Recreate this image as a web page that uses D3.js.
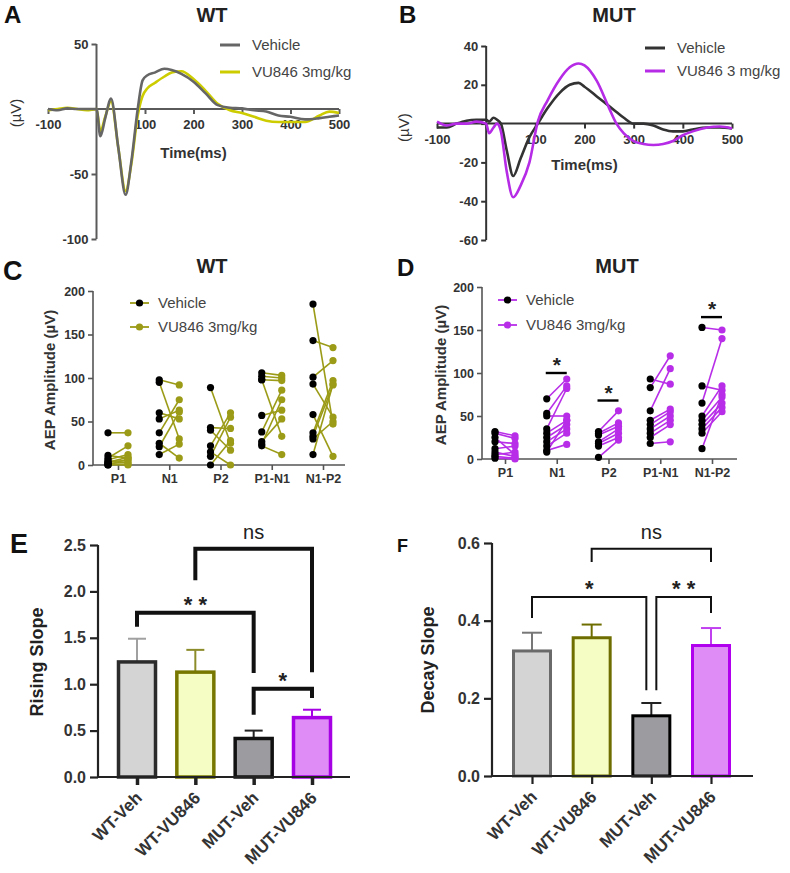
<!DOCTYPE html>
<html>
<head>
<meta charset="utf-8">
<script src="https://cdn.jsdelivr.net/npm/d3@7"></script>
<style>
body { margin: 0; background: #fff; }
svg { font-family: "Liberation Sans", Arial, sans-serif; }
</style>
</head>
<body>
<svg id="fig" width="790" height="873"></svg>
<script>
"use strict";

// ---------- data ----------
// A: WT averaged AEP traces (ms, µV)
const wtTime    = [-100,-80,-60,-40,-20,0,8,18,30,45,60,72,85,95,105,120,140,155,175,200,225,250,275,300,325,350,375,400,430,460,480,500];
const wtVehicle = [0,-1,0.5,0,0,0,-21,-7,8,-30,-66,-40,0,22,26,28,31,30,27,21,12,3,1,0.5,-1,-2,-5,-6,-8,-7,-6,-5];
const wtVU846   = [-1,0,1,0,-1,0,-17,-6,6,-30,-63,-42,-5,10,16,20,25,28,29,23,14,4,-1,-3,-6,-9,-10,-10,-10,-5,-2,-3];

// B: MUT averaged AEP traces
const mutTime    = [-100,-80,-60,-40,-20,0,6,15,22,30,42,55,70,88,105,125,150,170,188,200,225,250,265,280,300,320,340,360,380,400,420,450,475,500];
const mutVehicle = [-2,-2,0,1.5,2,2,1,3,2,0,-14,-27,-18,-7,0,8,16,20,21,19,14,9,6,3,0,0,-1,-3,-4,-4,-3,-2,-2,-2.5];
const mutVU846   = [1,-1,0,0,1,0,-5,-2,0,-4,-25,-38,-32,-20,1,12,23,29,31,30,22,8,0,-5,-9,-10.5,-11,-10.5,-9,-6,-4,-2,-1.5,-2.5];

// C/D: paired amplitudes per peak (index i of vehicle pairs with index i of VU846)
const peakCats = ["P1", "N1", "P2", "P1-N1", "N1-P2"];
const wtAmpVehicle = [
  [37, 11, 8, 6, 4, 3, 2, 1, 0, 0],
  [98, 95, 60, 53, 37, 25, 21, 12],
  [89, 43, 40, 22, 15, 10, 0],
  [106, 102, 98, 98, 57, 38, 27, 24, 22],
  [185, 143, 101, 93, 58, 37, 33, 30, 12]
];
const wtAmpVU846 = [
  [37, 8, 22, 12, 5, 9, 3, 0, 7, 1],
  [92, 30, 53, 63, 75, 8, 61, 24],
  [25, 42, 17, 60, 0, 55, 28],
  [103, 100, 97, 33, 63, 86, 53, 75, 12],
  [47, 135, 120, 55, 10, 97, 92, 50, 93]
];
const mutAmpVehicle = [
  [32, 30, 25, 20, 12, 8, 5, 3, 1],
  [70, 53, 50, 35, 30, 25, 20, 15, 10, 8],
  [32, 30, 28, 20, 18, 15, 2],
  [93, 83, 56, 45, 40, 35, 30, 25, 18],
  [153, 85, 65, 50, 45, 40, 35, 30, 12]
];
const mutAmpVU846 = [
  [27, 24, 5, 18, 15, 3, 8, 1, 0],
  [93, 85, 50, 82, 45, 40, 35, 30, 17, 45],
  [56, 42, 38, 35, 30, 25, 22],
  [87, 120, 105, 58, 55, 50, 45, 40, 20],
  [150, 80, 140, 85, 72, 65, 60, 55, 75]
];
const mutSigCats  = ["N1", "P2", "N1-P2"];
const mutSigLevel = [100, 68, 165];

// E/F: slopes, mean and SEM
const groups     = ["WT-Veh", "WT-VU846", "MUT-Veh", "MUT-VU846"];
const risingMean = [1.24, 1.13, 0.415, 0.64];
const risingSem  = [0.25, 0.24, 0.085, 0.085];
const decayMean  = [0.322, 0.356, 0.155, 0.336];
const decaySem   = [0.047, 0.034, 0.033, 0.045];

// comparison brackets: groups compared, bar height, leg ends, label
const risingBrackets = [
  { a: 0, b: 2, top: 1.77, endA: 1.62, endB: 1.12, label: "* *" },
  { a: 1, b: 3, top: 2.46, endA: 2.12, endB: 1.13, label: "ns" },
  { a: 2, b: 3, top: 0.95, endA: 0.67, endB: 0.85, label: "*" }
];
const decayBrackets = [
  { a: 1, b: 3, top: 0.585, endA: 0.551, endB: 0.551, label: "ns" },
  { a: 0, b: 2, top: 0.461, endA: 0.407, endB: 0.221, label: "*", nudgeB: -5 },
  { a: 2, b: 3, top: 0.461, endA: 0.221, endB: 0.42, label: "* *", nudgeA: 5 }
];

// ---------- drawing ----------
const svg = d3.select("#fig");

function letter(x, y, t, size) {
  svg.append("text").attr("x", x).attr("y", y).text(t)
    .attr("font-size", size || 24).attr("font-weight", "bold").attr("fill", "#111");
}
function title(x, y, t) {
  svg.append("text").attr("x", x).attr("y", y).text(t)
    .attr("text-anchor", "middle").attr("font-size", 20).attr("font-weight", "bold").attr("fill", "#222");
}
function styleAxis(ax, color, width, fontSize) {
  ax.select(".domain").attr("stroke", color).attr("stroke-width", width);
  ax.selectAll(".tick line").attr("stroke", color).attr("stroke-width", width);
  ax.selectAll(".tick text").attr("font-size", fontSize).attr("font-weight", "bold")
    .attr("fill", "#333").attr("font-family", "Liberation Sans, Arial, sans-serif");
}

function tracePanel(cfg) {
  const x = d3.scaleLinear().domain([-100, 500]).range(cfg.xRange);
  const y = d3.scaleLinear().domain(cfg.yDomain).range(cfg.yRange);
  const g = svg.append("g");

  const yAx = g.append("g").attr("transform", `translate(${x(0)},0)`)
    .call(d3.axisLeft(y).tickValues(cfg.yTicks).tickSize(5).tickPadding(3)
      .tickFormat(d => d === 0 ? "" : d));
  styleAxis(yAx, cfg.axisColor, 2, 13);
  yAx.select(".domain").attr("d", `M0,${y(cfg.yDomain[0])}V${y(cfg.yDomain[1])}`);

  const xAx = g.append("g").attr("transform", `translate(0,${y(0)})`)
    .call(d3.axisBottom(x).tickValues([-100, 0, 100, 200, 300, 400, 500]).tickSize(5).tickPadding(6)
      .tickFormat(d => d === 0 ? "" : d));
  styleAxis(xAx, cfg.axisColor, 2, 13);
  xAx.select(".domain").attr("d", `M${x(-100)},0H${x(500)}`);

  g.append("text").attr("x", x(200)).attr("y", y(0) + cfg.xLabelDy).text("Time(ms)")
    .attr("text-anchor", "middle").attr("font-size", 15).attr("font-weight", "bold").attr("fill", "#333");
  g.append("text").attr("transform", `translate(${cfg.yLabelX},${y(0) + 4}) rotate(-90)`)
    .text("(µV)").attr("text-anchor", "middle").attr("font-size", 15).attr("fill", "#333");

  const line = d3.line().x(d => x(d[0])).y(d => y(d[1])).curve(d3.curveMonotoneX);
  cfg.drawOrder.forEach(i => {
    const s = cfg.series[i];
    g.append("path").datum(d3.zip(cfg.time, s.values)).attr("d", line)
      .attr("fill", "none").attr("stroke", s.color).attr("stroke-width", 2.6)
      .attr("stroke-linejoin", "round");
  });

  cfg.series.forEach((s, i) => {
    const ly = cfg.legendY[i];
    g.append("line").attr("x1", cfg.legendX).attr("x2", cfg.legendX + 20)
      .attr("y1", ly).attr("y2", ly).attr("stroke", s.color).attr("stroke-width", 3);
    g.append("text").attr("x", cfg.legendX + cfg.legendGap).attr("y", ly + 5).text(s.name)
      .attr("font-size", 15).attr("fill", "#444");
  });
}

function pairPanel(cfg) {
  const x = d3.scalePoint().domain(peakCats).range(cfg.xRange);
  const y = d3.scaleLinear().domain([0, 200]).range(cfg.yRange);
  const g = svg.append("g");

  const yAx = g.append("g").attr("transform", `translate(${cfg.axisX},0)`)
    .call(d3.axisLeft(y).tickValues([0, 50, 100, 150, 200]).tickSize(5).tickPadding(3));
  styleAxis(yAx, "#555", 1.6, 12.5);
  yAx.select(".domain").attr("d", `M0,${y(0)}V${y(200)}`);

  const xAx = g.append("g").attr("transform", `translate(0,${y(0)})`)
    .call(d3.axisBottom(x).tickSize(5).tickPadding(4));
  styleAxis(xAx, "#555", 1.6, 12.5);
  xAx.select(".domain").attr("d", `M${cfg.axisX},0H${cfg.axisEnd}`);

  g.append("text").attr("transform", `translate(${cfg.yLabelX},${y(100) + 2}) rotate(-90)`)
    .text("AEP Amplitude (µV)").attr("text-anchor", "middle")
    .attr("font-size", 15).attr("font-weight", "bold").attr("fill", "#333");

  peakCats.forEach((c, i) => {
    const pairs = d3.zip(cfg.veh[i], cfg.vu[i]);
    g.selectAll(null).data(pairs).join("line")
      .attr("x1", x(c) - 10).attr("x2", x(c) + 10)
      .attr("y1", d => y(d[0])).attr("y2", d => y(d[1]))
      .attr("stroke", cfg.color).attr("stroke-width", 1.6);
    g.selectAll(null).data(cfg.veh[i]).join("circle")
      .attr("cx", x(c) - 10).attr("cy", d => y(d)).attr("r", 3.6).attr("fill", "#000");
    g.selectAll(null).data(cfg.vu[i]).join("circle")
      .attr("cx", x(c) + 10).attr("cy", d => y(d)).attr("r", 3.6).attr("fill", cfg.color);
  });

  if (cfg.sigCats) {
    cfg.sigCats.forEach((c, i) => {
      const yy = y(cfg.sigLevel[i]);
      g.append("line").attr("x1", x(c) - 11).attr("x2", x(c) + 10)
        .attr("y1", yy).attr("y2", yy).attr("stroke", "#000").attr("stroke-width", 2.4);
      g.append("text").attr("x", x(c)).attr("y", yy - 1).text("*")
        .attr("text-anchor", "middle").attr("font-size", 21).attr("font-weight", "bold").attr("fill", "#222");
    });
  }

  ["Vehicle", "VU846 3mg/kg"].forEach((name, i) => {
    const ly = cfg.legendY[i];
    g.append("line").attr("x1", cfg.legendX).attr("x2", cfg.legendX + 19)
      .attr("y1", ly).attr("y2", ly).attr("stroke", cfg.color).attr("stroke-width", 1.8);
    g.append("circle").attr("cx", cfg.legendX + 9.5).attr("cy", ly).attr("r", 3.6)
      .attr("fill", i === 0 ? "#000" : cfg.color);
    g.append("text").attr("x", cfg.legendX + 28).attr("y", ly + 5).text(name)
      .attr("font-size", 15).attr("fill", "#444");
  });
}

function barPanel(cfg) {
  const x = d3.scalePoint().domain(groups).range(cfg.xRange);
  const y = d3.scaleLinear().domain(cfg.yDomain).range(cfg.yRange);
  const g = svg.append("g");
  const bw = 37;

  const data = groups.map((k, i) => ({ k, m: cfg.mean[i], s: cfg.sem[i], i }));

  g.selectAll(null).data(data).join("line")
    .attr("x1", d => x(d.k)).attr("x2", d => x(d.k))
    .attr("y1", d => y(d.m)).attr("y2", d => y(d.m + d.s))
    .attr("stroke", d => cfg.errColors[d.i]).attr("stroke-width", 2);
  g.selectAll(null).data(data).join("line")
    .attr("x1", d => x(d.k) - cfg.cap / 2).attr("x2", d => x(d.k) + cfg.cap / 2)
    .attr("y1", d => y(d.m + d.s)).attr("y2", d => y(d.m + d.s))
    .attr("stroke", d => cfg.errColors[d.i]).attr("stroke-width", 2);

  g.selectAll(null).data(data).join("rect")
    .attr("x", d => x(d.k) - bw / 2).attr("width", bw)
    .attr("y", d => y(d.m)).attr("height", d => y(0) - y(d.m))
    .attr("fill", d => cfg.fills[d.i]).attr("stroke", d => cfg.strokes[d.i])
    .attr("stroke-width", cfg.barStroke);

  const yAx = g.append("g").attr("transform", `translate(${cfg.axisX},0)`)
    .call(d3.axisLeft(y).tickValues(cfg.yTicks).tickSize(8).tickPadding(4).tickFormat(d3.format(".1f")));
  styleAxis(yAx, "#222", 2.2, 16);
  yAx.select(".domain").attr("d", `M0,${y(0)}V${y(cfg.yDomain[1])}`);

  const xAx = g.append("g").attr("transform", `translate(0,${y(0)})`)
    .call(d3.axisBottom(x).tickSize(8).tickFormat(""));
  xAx.select(".domain").attr("d", `M${cfg.axisX},0H${cfg.axisEnd}`)
    .attr("stroke", "#222").attr("stroke-width", 2.2);
  xAx.selectAll(".tick line").attr("stroke", "#222").attr("stroke-width", cfg.xTickWidth);

  g.selectAll(null).data(groups).join("text")
    .attr("transform", d => `translate(${x(d) + 6},${y(0) + 22}) rotate(-45)`)
    .attr("text-anchor", "end").text(d => d)
    .attr("font-size", 17).attr("font-weight", "bold").attr("fill", "#333");

  g.append("text").attr("transform", `translate(${cfg.yLabelX},${cfg.yLabelY}) rotate(-90)`)
    .text(cfg.yLabel).attr("text-anchor", "middle")
    .attr("font-size", 18).attr("font-weight", "bold").attr("fill", "#222");

  cfg.brackets.forEach(b => {
    const xa = x(groups[b.a]) + (b.nudgeA || 0);
    const xb = x(groups[b.b]) + (b.nudgeB || 0);
    g.append("path")
      .attr("d", `M${xa},${y(b.endA)}V${y(b.top)}H${xb}V${y(b.endB)}`)
      .attr("fill", "none").attr("stroke", "#111").attr("stroke-width", cfg.bracketWidth);
    const star = b.label !== "ns";
    g.append("text").attr("x", (xa + xb) / 2).attr("y", y(b.top) - (star ? 1 : 10))
      .text(b.label).attr("text-anchor", "middle")
      .attr("font-size", star ? 22 : 20).attr("font-weight", star ? "bold" : "normal")
      .attr("fill", "#222");
  });
}

// panel letters and titles
letter(4, 23, "A");
letter(399, 23, "B");
letter(3, 280, "C", 27);
letter(397, 276, "D");
letter(10, 553, "E", 27);
letter(397, 552, "F", 18);
title(212, 22, "WT");
title(614, 22, "MUT");
title(212, 273, "WT");
title(617, 273, "MUT");

tracePanel({
  xRange: [48, 339], yDomain: [-100, 50], yRange: [239, 44], yTicks: [-100, -50, 0, 50],
  axisColor: "#5a5a5a", time: wtTime, xLabelDy: 49, yLabelX: 21,
  legendX: 220, legendGap: 32, legendY: [45, 72], drawOrder: [1, 0],
  series: [
    { name: "Vehicle", values: wtVehicle, color: "#666666" },
    { name: "VU846 3mg/kg", values: wtVU846, color: "#cccc00" }
  ]
});
tracePanel({
  xRange: [437, 732], yDomain: [-60, 40], yRange: [240, 46], yTicks: [-60, -40, -20, 0, 20, 40],
  axisColor: "#333", time: mutTime, xLabelDy: 46, yLabelX: 409,
  legendX: 645, legendGap: 32, legendY: [48, 71], drawOrder: [0, 1],
  series: [
    { name: "Vehicle", values: mutVehicle, color: "#333333" },
    { name: "VU846 3 mg/kg", values: mutVU846, color: "#b52be6" }
  ]
});

pairPanel({
  xRange: [118, 323], yRange: [465, 291], axisX: 93, axisEnd: 345, yLabelX: 55,
  veh: wtAmpVehicle, vu: wtAmpVU846, color: "#9b9b17",
  legendX: 130, legendY: [303, 327]
});
pairPanel({
  xRange: [505, 712], yRange: [459, 287], axisX: 482, axisEnd: 737, yLabelX: 446,
  veh: mutAmpVehicle, vu: mutAmpVU846, color: "#b82ee8",
  sigCats: mutSigCats, sigLevel: mutSigLevel,
  legendX: 498, legendY: [300, 325]
});

barPanel({
  xRange: [137, 312], yDomain: [0, 2.5], yRange: [777, 545], yTicks: [0, 0.5, 1, 1.5, 2, 2.5],
  axisX: 98, axisEnd: 350, mean: risingMean, sem: risingSem,
  fills: ["#d4d4d4", "#f6fdc4", "#9c9ca0", "#e08cf6"],
  strokes: ["#2b2b2b", "#777700", "#111111", "#a600e4"],
  errColors: ["#a0a0a0", "#8c8c2a", "#222222", "#a600e4"],
  barStroke: 3.5, cap: 18, xTickWidth: 3.5, bracketWidth: 4,
  yLabel: "Rising Slope", yLabelX: 43, yLabelY: 662, brackets: risingBrackets
});
barPanel({
  xRange: [532, 711], yDomain: [0, 0.6], yRange: [776, 543], yTicks: [0, 0.2, 0.4, 0.6],
  axisX: 492, axisEnd: 753, mean: decayMean, sem: decaySem,
  fills: ["#d4d4d4", "#f6fdc4", "#9c9ca0", "#e08cf6"],
  strokes: ["#6a6a6a", "#6e6e00", "#000000", "#b000ee"],
  errColors: ["#777777", "#6e6e00", "#222222", "#c040f0"],
  barStroke: 3, cap: 20, xTickWidth: 2.2, bracketWidth: 2,
  yLabel: "Decay Slope", yLabelX: 434, yLabelY: 660, brackets: decayBrackets
});
</script>
</body>
</html>
